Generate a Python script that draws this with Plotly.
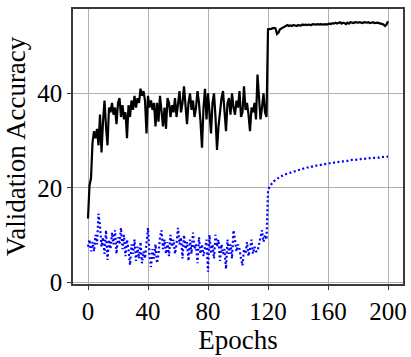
import plotly.graph_objects as go

epochs = list(range(0, 201))

black_acc = [
    13.5, 20.5, 22.0, 29.5, 32.0, 30.5, 32.5, 29.0, 35.5, 27.5,
    34.0, 38.5, 33.0, 29.0, 37.0, 36.0, 38.0, 35.5, 37.0, 33.5,
    38.0, 39.0, 35.0, 37.5, 34.5, 36.0, 30.5, 37.5, 35.0, 38.5,
    36.5, 39.5, 37.0, 39.0, 38.0, 41.0, 39.5, 40.5, 38.5, 31.5,
    39.5, 37.0, 38.5, 36.5, 38.0, 33.0, 38.0, 34.0, 39.5, 36.0,
    33.0, 37.0, 32.5, 39.0, 38.0, 35.0, 37.5, 36.0, 39.0, 35.0,
    37.5, 40.5, 36.0, 38.0, 41.5, 37.0, 33.5, 38.0, 40.0, 36.5,
    38.5, 35.0, 37.0, 40.5, 38.0, 34.0, 28.5, 37.0, 41.0, 34.5,
    40.0, 36.0, 31.5, 38.0, 40.0, 35.0, 28.0, 33.0, 37.0, 39.0,
    40.5, 36.0, 32.0, 38.0, 39.0, 35.5, 40.0, 37.0, 35.5, 38.5,
    37.0, 40.5, 35.0, 36.0, 41.5, 36.5, 38.0, 35.5, 32.0, 37.0,
    36.0, 38.0, 34.5, 44.0, 39.0, 34.5, 37.0, 40.0, 36.0, 35.0,
    53.6, 53.6, 53.7, 53.8, 53.9, 53.8, 52.6, 52.9, 53.6, 53.8,
    54.0, 54.2, 54.4, 54.5, 54.3, 54.4, 54.3, 54.5, 54.4, 54.3,
    54.5, 54.4, 54.4, 54.6, 54.5, 54.6, 54.5, 54.6, 54.6, 54.5,
    54.7, 54.6, 54.6, 54.7, 54.6, 54.7, 54.6, 54.6, 54.7, 54.6,
    54.7, 54.8, 54.7, 54.9, 54.8, 55.0, 54.8, 54.9, 55.1, 54.8,
    55.0, 54.9, 54.7, 55.0, 54.8, 55.1, 55.0, 54.9, 55.1, 55.0,
    55.0, 55.1, 55.0, 54.9, 55.1, 55.0, 55.0, 55.1, 54.9, 55.0,
    55.1, 54.9, 55.0, 55.0, 54.9, 54.8, 54.7, 54.6, 54.3, 54.6,
    55.3,
]

blue_acc = [
    7.5, 9.0, 6.5, 8.5, 6.5, 10.0, 8.0, 14.5, 12.0, 7.5,
    9.5, 6.0, 11.0, 4.7, 9.0, 7.0, 10.5, 8.0, 11.0, 6.0,
    9.5, 8.0, 11.5, 7.0, 10.0, 5.5, 9.0, 7.0, 3.6, 8.0,
    6.0, 9.0, 4.5, 7.5, 5.0, 8.5, 4.0, 6.5, 5.0, 8.0,
    11.5, 6.0, 3.2, 7.0, 5.0, 8.0, 4.0, 6.0, 9.5, 11.0,
    7.0, 9.0, 6.0, 8.5, 5.5, 10.0, 7.5, 9.0, 6.0, 8.0,
    11.5, 8.0, 9.5, 5.0, 10.0, 7.0, 8.5, 4.5, 9.0, 6.0,
    10.5, 7.0, 8.0, 4.0, 9.5, 6.0, 8.0, 5.5, 7.0, 9.0,
    2.2, 10.0, 6.0, 8.0, 5.0, 10.0, 7.5, 9.0, 4.5, 8.0,
    6.0, 7.0, 2.8, 9.0, 6.0, 8.0, 5.0, 11.0, 9.0, 6.5,
    8.0, 7.0, 5.0, 3.5, 7.0, 6.0, 8.5, 5.5, 7.0, 9.0,
    6.0, 7.5, 6.5, 6.5, 8.0, 9.5, 11.0, 8.5, 10.0, 9.0,
    19.3, 20.2, 20.8, 21.1, 21.4, 21.7, 21.9, 22.1, 22.3, 22.5,
    22.6, 22.8, 22.9, 23.0, 23.2, 23.3, 23.4, 23.5, 23.6, 23.7,
    23.8, 23.9, 24.0, 24.0, 24.1, 24.2, 24.3, 24.3, 24.4, 24.5,
    24.5, 24.6, 24.7, 24.7, 24.8, 24.9, 24.9, 25.0, 25.0, 25.1,
    25.1, 25.2, 25.2, 25.3, 25.3, 25.4, 25.4, 25.5, 25.5, 25.6,
    25.6, 25.7, 25.7, 25.7, 25.8, 25.8, 25.9, 25.9, 25.9, 26.0,
    26.0, 26.0, 26.1, 26.1, 26.1, 26.2, 26.2, 26.2, 26.3, 26.3,
    26.3, 26.4, 26.4, 26.4, 26.4, 26.5, 26.5, 26.5, 26.5, 26.6,
    26.6,
]

x_ticks = [0, 40, 80, 120, 160, 200]
y_ticks = [0, 20, 40]

FONT = "Liberation Serif"

fig = go.Figure()
fig.add_trace(go.Scatter(
    x=epochs, y=black_acc, mode="lines",
    line=dict(color="black", width=2.2), showlegend=False,
))
fig.add_trace(go.Scatter(
    x=epochs, y=blue_acc, mode="lines",
    line=dict(color="#0000ff", width=2.2, dash="2px,2.5px"), showlegend=False,
))

axis_common = dict(
    showgrid=True, gridcolor="#b0b0b0", gridwidth=1,
    showline=True, linecolor="#3a3a3a", linewidth=1.6, mirror=True,
    ticks="outside", ticklen=4, tickwidth=1.2, tickcolor="#3a3a3a",
    zeroline=False, automargin=False,
    tickfont=dict(family=FONT, size=25, color="black"),
)

fig.update_layout(
    width=411, height=357,
    margin=dict(l=73, r=8, t=9, b=73),
    paper_bgcolor="white", plot_bgcolor="white",
    xaxis=dict(
        range=[-10, 210], tickvals=x_ticks, ticktext=[str(v) for v in x_ticks],
        title=dict(text="Epochs", font=dict(family=FONT, size=27, color="black"), standoff=4),
        **axis_common,
    ),
    yaxis=dict(
        range=[-0.4, 57.9], tickvals=y_ticks, ticktext=[str(v) for v in y_ticks],
        title=dict(text="Validation Accuracy", font=dict(family=FONT, size=27, color="black"), standoff=4),
        **axis_common,
    ),
)

fig.write_html(
    "out.html",
    config={"displayModeBar": False},
    post_script="document.body.style.margin='0px';",
)
